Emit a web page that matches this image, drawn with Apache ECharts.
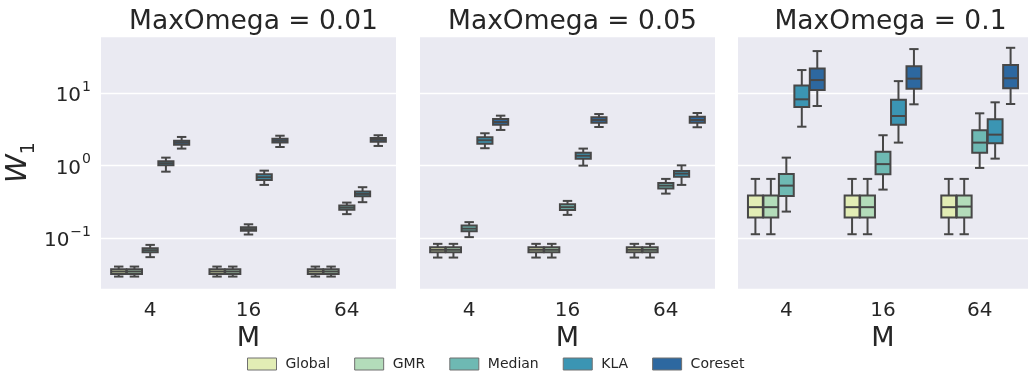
<!DOCTYPE html>
<html>
<head>
<meta charset="utf-8">
<script src="https://cdn.jsdelivr.net/npm/echarts@6/dist/echarts.min.js"></script>
<style>
html,body{margin:0;padding:0;background:#fff;}
#chart{width:1028px;height:373px;}
</style>
</head>
<body>
<div id="chart"></div>
<script>
// ---- data: [min, q1, median, q3, max] per category ----
const categories = ['4', '16', '64'];
const seriesNames = ['Global', 'GMR', 'Median', 'KLA', 'Coreset'];
const panelTitles = ['MaxOmega = 0.01', 'MaxOmega = 0.05', 'MaxOmega = 0.1'];
const yTickValues = [0.1, 1, 10];

// MaxOmega = 0.01
const p1Global  = [[0.0294,0.032,0.0345,0.0372,0.0404],[0.0294,0.032,0.0345,0.0372,0.0404],[0.0294,0.032,0.0345,0.0372,0.0404]];
const p1GMR     = [[0.0294,0.032,0.0345,0.0372,0.0404],[0.0294,0.032,0.0345,0.0372,0.0404],[0.0294,0.032,0.0345,0.0372,0.0404]];
const p1Median  = [[0.0545,0.0639,0.068,0.0725,0.0805],[0.112,0.126,0.133,0.141,0.155],[0.214,0.247,0.263,0.281,0.309]];
const p1KLA     = [[0.826,1.01,1.08,1.15,1.29],[0.542,0.635,0.692,0.76,0.853],[0.313,0.378,0.407,0.438,0.504]];
const p1Coreset = [[1.72,1.95,2.08,2.21,2.49],[1.81,2.08,2.21,2.36,2.59],[1.87,2.14,2.28,2.41,2.63]];
// MaxOmega = 0.05
const p2Global  = [[0.0538,0.0639,0.0688,0.0748,0.0832],[0.0538,0.0639,0.0688,0.0748,0.0832],[0.0538,0.0639,0.0688,0.0748,0.0832]];
const p2GMR     = [[0.0538,0.0639,0.0688,0.0748,0.0832],[0.0538,0.0639,0.0688,0.0748,0.0832],[0.0538,0.0639,0.0688,0.0748,0.0832]];
const p2Median  = [[0.103,0.124,0.135,0.149,0.166],[0.209,0.245,0.267,0.294,0.326],[0.411,0.482,0.53,0.577,0.656]];
const p2KLA     = [[1.74,2.01,2.24,2.47,2.80],[1.0,1.25,1.37,1.51,1.72],[0.542,0.705,0.776,0.845,1.01]];
const p2Coreset = [[3.11,3.68,4.01,4.41,4.9],[3.42,3.92,4.27,4.65,5.16],[3.39,3.92,4.27,4.74,5.33]];
// MaxOmega = 0.1
const p3Global  = [[0.113,0.192,0.267,0.386,0.656],[0.113,0.192,0.267,0.386,0.656],[0.113,0.192,0.267,0.386,0.656]];
const p3GMR     = [[0.113,0.192,0.267,0.386,0.656],[0.113,0.192,0.267,0.386,0.656],[0.113,0.192,0.272,0.386,0.656]];
const p3Median  = [[0.232,0.382,0.53,0.768,1.29],[0.467,0.76,1.05,1.55,2.63],[0.93,1.51,2.08,3.08,5.28]];
const p3KLA     = [[3.45,6.45,8.24,12.8,20.9],[2.08,3.68,4.85,8.13,14.7],[1.25,2.04,2.68,4.37,7.49]];
const p3Coreset = [[6.66,11.1,15.2,22.0,38.2],[7.03,11.5,15.9,23.5,40.7],[7.1,11.7,16.1,24.5,42.4]];

const panels = [
  [p1Global, p1GMR, p1Median, p1KLA, p1Coreset],
  [p2Global, p2GMR, p2Median, p2KLA, p2Coreset],
  [p3Global, p3GMR, p3Median, p3KLA, p3Coreset]
];

// ---- style ----
const COLORS = ['#E2EDB5', '#B3DCBA', '#6EB9B3', '#3B95B3', '#2D68A0'];
const EDGE = '#474747';
const TEXT = '#262626';
const FONT = 'DejaVu Sans';
const gridLefts = [101, 420, 738];
const gridWidth = 295;

function makeRender(k) {
  return function (params, api) {
    const cat = api.value(0);
    const mn = api.value(1), q1 = api.value(2), md = api.value(3), q3 = api.value(4), mx = api.value(5);
    const band = api.size([1, 1])[0];
    const boxW = band * 0.8 / seriesNames.length;
    const cx = api.coord([cat, md])[0] + (k - (seriesNames.length - 1) / 2) * boxW;
    const y = v => api.coord([cat, v])[1];
    const half = boxW / 2 - 0.3;
    const capHalf = boxW * 0.3;
    const ls = { stroke: EDGE, lineWidth: 2 };
    return {
      type: 'group',
      children: [
        { type: 'line', shape: { x1: cx, y1: y(mn), x2: cx, y2: y(q1) }, style: ls },
        { type: 'line', shape: { x1: cx, y1: y(q3), x2: cx, y2: y(mx) }, style: ls },
        { type: 'line', shape: { x1: cx - capHalf, y1: y(mn), x2: cx + capHalf, y2: y(mn) }, style: ls },
        { type: 'line', shape: { x1: cx - capHalf, y1: y(mx), x2: cx + capHalf, y2: y(mx) }, style: ls },
        { type: 'rect', shape: { x: cx - half, y: y(q3), width: 2 * half, height: y(q1) - y(q3) },
          style: { fill: COLORS[k], stroke: EDGE, lineWidth: 2 } },
        { type: 'line', shape: { x1: cx - half, y1: y(md), x2: cx + half, y2: y(md) }, style: ls }
      ]
    };
  };
}

const grids = [], xAxes = [], yAxes = [], series = [], titles = [];
panels.forEach((panel, p) => {
  grids.push({ left: gridLefts[p], top: 36, width: gridWidth, height: 253,
    show: true, backgroundColor: '#EAEAF2', borderWidth: 0 });
  titles.push({ text: panelTitles[p], left: gridLefts[p] + gridWidth / 2, top: 4, textAlign: 'center',
    textStyle: { fontFamily: FONT, fontSize: 26.5, fontWeight: 'normal', color: TEXT } });
  xAxes.push({ type: 'category', gridIndex: p, data: categories,
    name: 'M', nameLocation: 'middle', nameGap: 34,
    nameTextStyle: { fontFamily: FONT, fontSize: 27, color: TEXT },
    axisLine: { show: false }, axisTick: { show: false }, splitLine: { show: false },
    axisLabel: { fontFamily: FONT, fontSize: 20, color: TEXT, margin: 12 } });
  yAxes.push({ type: 'log', logBase: 10, gridIndex: p, min: 0.0198, max: 61.7,
    name: p === 0 ? '{w|W}{s|1}' : '', nameLocation: 'middle', nameGap: 68, nameRotate: 90,
    nameTextStyle: { rich: {
      w: { fontFamily: FONT, fontSize: 29, fontStyle: 'italic', color: TEXT, verticalAlign: 'bottom', lineHeight: 30 },
      s: { fontFamily: FONT, fontSize: 19, color: TEXT, verticalAlign: 'bottom', lineHeight: 30, padding: [0, 0, -6, 0] } } },
    axisLine: { show: false }, axisTick: { show: false },
    splitLine: { show: true, lineStyle: { color: '#ffffff', width: 1.3 } },
    axisLabel: { show: p === 0, showMinLabel: false, showMaxLabel: false, margin: 10,
      formatter: function (v) {
        const e = Math.round(Math.log10(v));
        if (!yTickValues.some(t => Math.abs(Math.log10(t) - e) < 1e-6)) return '';
        return '{b|10}{s|' + (e < 0 ? '\u2212' + (-e) : e) + '}';
      },
      rich: {
        b: { fontFamily: FONT, fontSize: 20, color: TEXT, verticalAlign: 'bottom', lineHeight: 26 },
        s: { fontFamily: FONT, fontSize: 14, color: TEXT, verticalAlign: 'top', lineHeight: 26, padding: [0, 0, 0, 1] }
      } } });
  panel.forEach((vals, k) => {
    series.push({ type: 'custom', name: seriesNames[k], xAxisIndex: p, yAxisIndex: p,
      itemStyle: { color: COLORS[k], borderColor: EDGE },
      renderItem: makeRender(k),
      encode: { x: 0, y: [1, 2, 3, 4, 5] },
      data: vals.map((v, i) => [i].concat(v)) });
  });
});

const chart = echarts.init(document.getElementById('chart'), null, { renderer: 'canvas' });
chart.setOption({
  animation: false,
  title: titles,
  grid: grids,
  xAxis: xAxes,
  yAxis: yAxes,
  legend: { data: seriesNames, left: 242, top: 352, icon: 'rect', itemWidth: 29, itemHeight: 12, itemGap: 24,
    itemStyle: { borderColor: '#707070', borderWidth: 1 },
    textStyle: { fontFamily: FONT, fontSize: 14, color: TEXT, padding: [0, 0, 0, 4] } },
  series: series
});
</script>
</body>
</html>
